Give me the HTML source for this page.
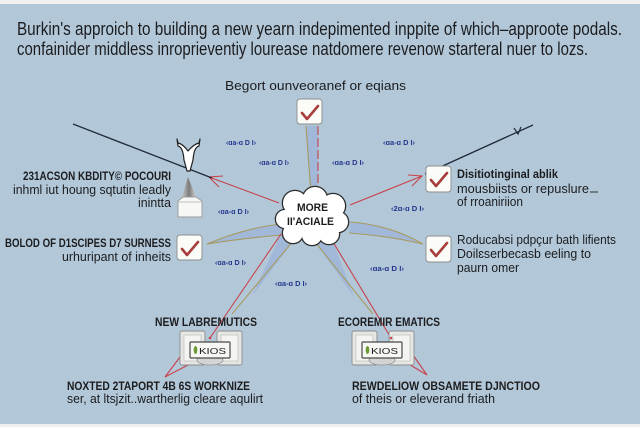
<!DOCTYPE html>
<html><head><meta charset="utf-8"><style>
html,body{margin:0;padding:0;background:#b2c8d9;}
svg{display:block;}
text{font-family:"Liberation Sans",sans-serif;fill:#1c1c1e;}
.b{font-weight:bold;}
.s{font-size:7.5px;fill:#24378c;font-weight:bold;}
</style></head><body>
<svg width="640" height="427" viewBox="0 0 640 427" xmlns="http://www.w3.org/2000/svg">
<rect x="0" y="0" width="640" height="427" fill="#b2c8d9"/>
<rect x="0" y="0" width="640" height="4" fill="#f2f2f0"/>
<rect x="0" y="424" width="640" height="3" fill="#efefed"/>

<!-- title -->
<text x="17" y="35" font-size="18" textLength="605" lengthAdjust="spacingAndGlyphs">Burkin's approich to building a new yearn indepimented inppite of which–approote podals.</text>
<text x="17" y="55" font-size="18" textLength="571" lengthAdjust="spacingAndGlyphs">confainider middless inroprieventiy lourease natdomere revenow starteral nuer to lozs.</text>
<text x="225" y="90" font-size="13" textLength="181" lengthAdjust="spacingAndGlyphs">Begort ounveoranef or eqians</text>

<!-- wedges -->
<g fill="#a1b8d9" stroke="none">
<polygon points="306,126 318,126 318,194 311,194"/>
<path d="M207,244 Q245,228 281,224 L282,235 Q245,238 207,244 Z"/>
<path d="M423,244 Q390,225 350,222 L349,233 Q390,236 423,244 Z"/>
<polygon points="281,234 294,240 252,296"/>
<polygon points="315,242 333,242 354,297"/>
</g>
<g fill="none" stroke-width="1.1">
<line x1="306" y1="126" x2="311" y2="194" stroke="#a89a60"/>
<line x1="318" y1="126" x2="318" y2="194" stroke="#c8424a" stroke-dasharray="9 3"/>
<path d="M207,244 Q245,228 281,224" stroke="#a89a60"/>
<path d="M207,244 Q245,238 282,235" stroke="#a89a60"/>
<path d="M423,244 Q390,225 350,222" stroke="#a89a60"/>
<path d="M423,244 Q390,236 349,233" stroke="#a89a60"/>
<line x1="281" y1="234" x2="210" y2="338" stroke="#c8424a"/>
<line x1="294" y1="240" x2="232" y2="314" stroke="#a89a60"/>
<line x1="333" y1="242" x2="391" y2="338" stroke="#c8424a"/>
<line x1="315" y1="242" x2="373" y2="314" stroke="#a89a60"/>
<!-- arrows to top left/right -->
<line x1="279" y1="203" x2="209" y2="177" stroke="#c8424a"/>
<polyline points="223,176 209,177 219,187" stroke="#c8424a"/>
<line x1="350" y1="205" x2="422" y2="176" stroke="#c8424a"/>
<polyline points="408,175 422,176 412,186" stroke="#c8424a"/>
<!-- bottom arrows -->
<polyline points="183,353 165,377 188,365" stroke="#c8424a"/>
<polyline points="413,355 427,375 407,363" stroke="#c8424a"/>
</g>
<line x1="73" y1="124" x2="212" y2="178" stroke="#1f2a3a" stroke-width="1.3"/>
<line x1="425" y1="174" x2="533" y2="125" stroke="#1f2a3a" stroke-width="1.3"/>
<polyline points="514,128 518,134 521,127" fill="none" stroke="#1f2a3a" stroke-width="1.2"/>

<!-- scribble labels -->
<text x="226" y="145" class="s" textLength="30" lengthAdjust="spacingAndGlyphs">‹ɑa-ɑ D I›</text>
<text x="259" y="165" class="s" textLength="30" lengthAdjust="spacingAndGlyphs">‹ɑa-ɑ D I›</text>
<text x="332" y="165" class="s" textLength="32" lengthAdjust="spacingAndGlyphs">‹ɑa-ɑ D I›</text>
<text x="383" y="145" class="s" textLength="32" lengthAdjust="spacingAndGlyphs">‹ɑa-ɑ D I›</text>
<text x="218" y="214" class="s" textLength="31" lengthAdjust="spacingAndGlyphs">‹ɑa-ɑ D I›</text>
<text x="391" y="211" class="s" textLength="33" lengthAdjust="spacingAndGlyphs">‹2ɑ-ɑ D I›</text>
<text x="215" y="265" class="s" textLength="31" lengthAdjust="spacingAndGlyphs">‹ɑa-ɑ D I›</text>
<text x="370" y="271" class="s" textLength="34" lengthAdjust="spacingAndGlyphs">‹ɑa-ɑ D I›</text>
<text x="275" y="286" class="s" textLength="32" lengthAdjust="spacingAndGlyphs">‹ɑa-ɑ D I›</text>

<!-- cloud -->
<g stroke="#2c2c2c" stroke-width="2.6" fill="#2c2c2c">
<circle cx="295" cy="203" r="12"/><circle cx="315" cy="199" r="12"/><circle cx="333" cy="206" r="12"/>
<circle cx="338" cy="222" r="10"/><circle cx="329" cy="234" r="10"/><circle cx="312" cy="235" r="10"/>
<circle cx="293" cy="233" r="10"/><circle cx="285" cy="219" r="9"/>
</g>
<g fill="#ffffff">
<circle cx="295" cy="203" r="12"/><circle cx="315" cy="199" r="12"/><circle cx="333" cy="206" r="12"/>
<circle cx="338" cy="222" r="10"/><circle cx="329" cy="234" r="10"/><circle cx="312" cy="235" r="10"/>
<circle cx="293" cy="233" r="10"/><circle cx="285" cy="219" r="9"/>
<ellipse cx="312" cy="218" rx="26" ry="18"/>
</g>
<text x="297" y="211" font-size="11" class="b" textLength="31" lengthAdjust="spacingAndGlyphs" style="font-weight:bold">MORE</text>
<text x="287" y="225" font-size="11" textLength="47" lengthAdjust="spacingAndGlyphs" style="font-weight:bold">II'ACIALE</text>

<!-- checkboxes -->
<g>
<rect x="297" y="99" width="25" height="25" rx="3" fill="#fbfbf8" stroke="#8c8c8c" stroke-width="0.9"/>
<path d="M302,113 L307,119 L318,106" fill="none" stroke="#a63e3c" stroke-width="2.6" stroke-linecap="round" stroke-linejoin="round"/>
</g>
<g transform="translate(129,67)">
<rect x="297" y="99" width="25" height="26" rx="3" fill="#fbfbf8" stroke="#8c8c8c" stroke-width="0.9"/>
<path d="M302,113 L307,119 L318,106" fill="none" stroke="#a63e3c" stroke-width="2.6" stroke-linecap="round" stroke-linejoin="round"/>
</g>
<g transform="translate(129,137)">
<rect x="297" y="99" width="25" height="26" rx="3" fill="#fbfbf8" stroke="#8c8c8c" stroke-width="0.9"/>
<path d="M302,113 L307,119 L318,106" fill="none" stroke="#a63e3c" stroke-width="2.6" stroke-linecap="round" stroke-linejoin="round"/>
</g>
<g transform="translate(-120,136)">
<rect x="297" y="99" width="25" height="25" rx="3" fill="#fbfbf8" stroke="#8c8c8c" stroke-width="0.9"/>
<path d="M302,113 L307,119 L318,106" fill="none" stroke="#a63e3c" stroke-width="2.6" stroke-linecap="round" stroke-linejoin="round"/>
</g>

<!-- left icon -->
<path d="M177,139 L178,146 Q183,147 184,160 L187,171 L190,171 L193,160 Q194,147 199,146 L200,139 L199,143 Q194,144 188,151 Q183,144 178,143 Z" fill="#ffffff" stroke="#1f1f1f" stroke-width="1.2" stroke-linejoin="round"/>
<defs><linearGradient id="tg" x1="0" y1="0" x2="1" y2="0"><stop offset="0" stop-color="#c8c8c8"/><stop offset="0.5" stop-color="#7a7a7a"/><stop offset="1" stop-color="#d0d0d0"/></linearGradient></defs>
<polygon points="188,177 182,197 196,197" fill="url(#tg)"/>
<path d="M178,217 L178,201 L183,197 L196,197 L202,201 L202,217 Z" fill="#f7f7f5" stroke="#9a9a9a" stroke-width="0.9"/>
<line x1="178" y1="202" x2="202" y2="202" stroke="#b0b0b0" stroke-width="0.8"/>

<!-- bottom nodes -->
<g>
<rect x="180" y="331" width="25" height="34" rx="2" fill="#e6e6e4" stroke="#8a8a8a" stroke-width="0.9"/>
<rect x="184" y="335" width="17" height="26" fill="#f4f4f2" stroke="#b5b5b5" stroke-width="0.6"/>
<rect x="217" y="331" width="25" height="34" rx="2" fill="#e6e6e4" stroke="#8a8a8a" stroke-width="0.9"/>
<rect x="221" y="335" width="17" height="26" fill="#f4f4f2" stroke="#b5b5b5" stroke-width="0.6"/>
<ellipse cx="210" cy="360" rx="13" ry="5" fill="#d4d4d4" stroke="#8a8a8a" stroke-width="0.7"/>
<rect x="190" y="342" width="40" height="16" rx="1" fill="#f6f6f2" stroke="#4a4a4a" stroke-width="1.2"/>
<ellipse cx="195.5" cy="350" rx="1.8" ry="4" fill="#6a9a30"/>
<text x="199" y="354" font-size="8.5" textLength="27" lengthAdjust="spacingAndGlyphs" fill="#333">KIOS</text>
</g>
<g transform="translate(172,0)">
<rect x="180" y="331" width="25" height="34" rx="2" fill="#e6e6e4" stroke="#8a8a8a" stroke-width="0.9"/>
<rect x="184" y="335" width="17" height="26" fill="#f4f4f2" stroke="#b5b5b5" stroke-width="0.6"/>
<rect x="217" y="331" width="25" height="34" rx="2" fill="#e6e6e4" stroke="#8a8a8a" stroke-width="0.9"/>
<rect x="221" y="335" width="17" height="26" fill="#f4f4f2" stroke="#b5b5b5" stroke-width="0.6"/>
<ellipse cx="210" cy="360" rx="13" ry="5" fill="#d4d4d4" stroke="#8a8a8a" stroke-width="0.7"/>
<rect x="190" y="342" width="40" height="16" rx="1" fill="#f6f6f2" stroke="#4a4a4a" stroke-width="1.2"/>
<ellipse cx="195.5" cy="350" rx="1.8" ry="4" fill="#6a9a30"/>
<text x="199" y="354" font-size="8.5" textLength="27" lengthAdjust="spacingAndGlyphs" fill="#333">KIOS</text>
</g>
<circle cx="210" cy="338" r="1.3" fill="#c8424a"/>
<circle cx="391" cy="338" r="1.3" fill="#c8424a"/>

<!-- left texts -->
<text x="23" y="180" font-size="12" class="b" textLength="148" lengthAdjust="spacingAndGlyphs">231ACSON KBDITY© POCOURI</text>
<text x="13" y="194" font-size="13" textLength="158" lengthAdjust="spacingAndGlyphs">inhml iut houng sqtutin leadly</text>
<text x="138" y="207" font-size="13" textLength="33" lengthAdjust="spacingAndGlyphs">inintta</text>
<text x="5" y="247" font-size="12" class="b" textLength="166" lengthAdjust="spacingAndGlyphs">BOLOD OF D1SCIPES D7 SURNESS</text>
<text x="62" y="261" font-size="13" textLength="109" lengthAdjust="spacingAndGlyphs">urhuripant of inheits</text>

<!-- right texts -->
<text x="457" y="178" font-size="12" class="b" textLength="101" lengthAdjust="spacingAndGlyphs">Disitiotinginal ablik</text>
<text x="457" y="193" font-size="13" textLength="132" lengthAdjust="spacingAndGlyphs">mousbiists or repuslure</text>
<line x1="590" y1="192" x2="598" y2="192" stroke="#333" stroke-width="1"/>
<text x="457" y="206" font-size="13" textLength="66" lengthAdjust="spacingAndGlyphs">of rroaniriion</text>
<text x="457" y="244" font-size="13" textLength="159" lengthAdjust="spacingAndGlyphs">Roducabsi pdpçur bath lifients</text>
<text x="457" y="258" font-size="13" textLength="134" lengthAdjust="spacingAndGlyphs">Doilɛserbecasb eeling to</text>
<text x="457" y="272" font-size="13" textLength="62" lengthAdjust="spacingAndGlyphs">paurn omer</text>

<!-- bottom texts -->
<text x="155" y="326" font-size="12" class="b" textLength="102" lengthAdjust="spacingAndGlyphs">NEW LABREMUTICS</text>
<text x="338" y="326" font-size="12" class="b" textLength="102" lengthAdjust="spacingAndGlyphs">ECOREMIR EMATICS</text>
<text x="67" y="390" font-size="12" class="b" textLength="183" lengthAdjust="spacingAndGlyphs">NOXTED 2TAPORT 4B 6S WORKNIZE</text>
<text x="67" y="403" font-size="13" textLength="196" lengthAdjust="spacingAndGlyphs">ser, at ltsjzit..wartherlig cleare aqulirt</text>
<text x="352" y="390" font-size="12" class="b" textLength="188" lengthAdjust="spacingAndGlyphs">REWDELIOW OBSAMETE DJNCTIOO</text>
<text x="352" y="403" font-size="13" textLength="143" lengthAdjust="spacingAndGlyphs">of theis or eleverand friath</text>
</svg>
</body></html>
